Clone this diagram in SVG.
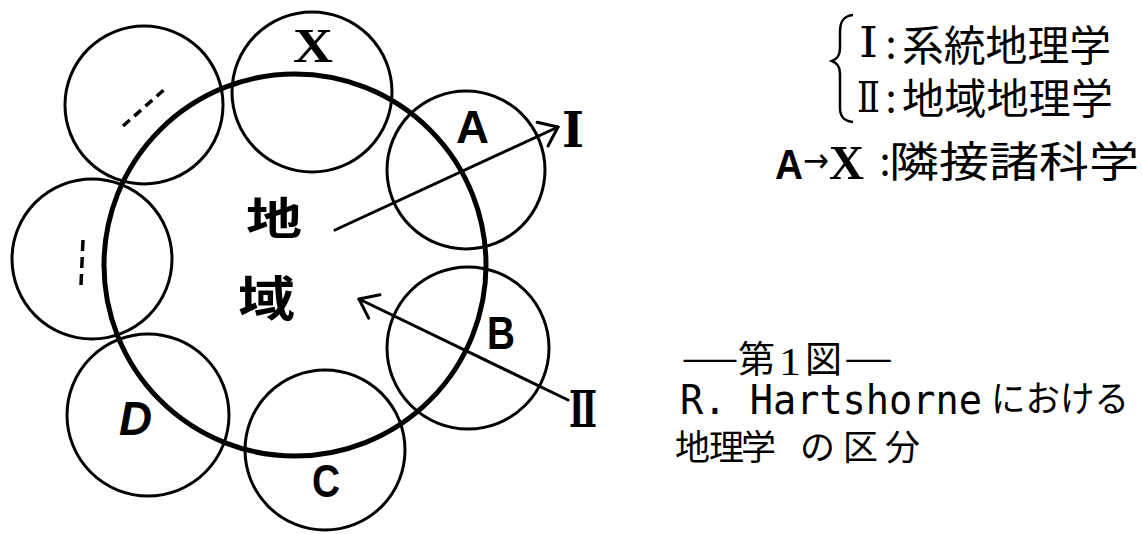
<svg xmlns="http://www.w3.org/2000/svg" width="1142" height="534" viewBox="0 0 1142 534">
<style>
.c{fill:none;stroke:#000;stroke-width:3}
.big{fill:none;stroke:#000;stroke-width:5}
.dash{fill:none;stroke:#000;stroke-width:3.5}
.ln{fill:none;stroke:#000;stroke-width:3;stroke-linecap:round}
.lab{font-family:"Liberation Sans",Arial,sans-serif;font-weight:700;fill:#000}
.ser{font-family:"Liberation Serif","Times New Roman",serif;font-weight:700;fill:#000}
.num{font-family:"DejaVu Serif","Liberation Serif",serif;font-weight:700;fill:#000}
.numl{font-family:"DejaVu Serif","Liberation Serif",serif;font-weight:400;fill:#000}
.one{font-family:"Liberation Serif","Times New Roman",serif;font-weight:400;fill:#000}
.jp{font-family:"Noto Sans CJK JP","Noto Sans CJK SC",sans-serif;fill:#000}
.mono{font-family:"DejaVu Sans Mono","Liberation Mono",monospace;fill:#000}
</style>
<defs>
<marker id="vh" markerUnits="userSpaceOnUse" viewBox="-20 -15 22 30" refX="0" refY="0" markerWidth="22" markerHeight="30" orient="auto">
<path d="M-17,-13 L0,0 L-17,13" fill="none" stroke="#000" stroke-width="3" stroke-linecap="round" stroke-linejoin="round"/>
</marker>
</defs>
<rect width="1142" height="534" fill="#fff"/>

<g id="region">
<circle class="big" cx="295" cy="265" r="191"/>
<text class="jp" font-weight="700" font-size="44" x="246" y="235" textLength="56" lengthAdjust="spacingAndGlyphs">地</text>
<text class="jp" font-weight="700" font-size="48" x="238" y="316" textLength="57" lengthAdjust="spacingAndGlyphs">域</text>
</g>
<g id="node-x">
<circle class="c" cx="312" cy="92" r="80"/>
<text class="ser" font-size="48" x="293" y="62" textLength="40" lengthAdjust="spacingAndGlyphs">X</text>
</g>
<g id="node-a">
<circle class="c" cx="466" cy="170" r="79"/>
<text class="lab" font-size="46" x="456" y="143" textLength="33" lengthAdjust="spacingAndGlyphs">A</text>
</g>
<g id="node-b">
<circle class="c" cx="468" cy="348" r="81"/>
<text class="lab" font-size="47" x="487" y="349" textLength="28" lengthAdjust="spacingAndGlyphs">B</text>
</g>
<g id="node-c">
<circle class="c" cx="325" cy="450" r="80"/>
<text class="lab" font-size="46" x="312" y="497" textLength="28" lengthAdjust="spacingAndGlyphs">C</text>
</g>
<g id="node-d">
<circle class="c" cx="148" cy="415" r="81"/>
<text class="lab" font-size="48" font-style="italic" x="119" y="435" textLength="33" lengthAdjust="spacingAndGlyphs">D</text>
</g>
<g id="node-left">
<circle class="c" cx="92" cy="259" r="80"/>
<line class="dash" x1="83" y1="240" x2="81" y2="285" stroke-dasharray="11 6"/>
</g>
<g id="node-topleft">
<circle class="c" cx="144" cy="105" r="79"/>
<line class="dash" x1="123" y1="126" x2="166" y2="88" stroke-dasharray="9 6"/>
</g>

<g id="connectors">
<path class="ln" d="M335,230 L558,127" marker-end="url(#vh)"/>
<path class="ln" d="M568,400 L359,299" marker-end="url(#vh)"/>
<text class="num" font-size="48" x="562" y="147" textLength="22" lengthAdjust="spacingAndGlyphs">Ⅰ</text>
<text class="num" font-size="50" x="569" y="427" textLength="28" lengthAdjust="spacingAndGlyphs">Ⅱ</text>
</g>

<g id="legend">
<path d="M853,15 C843,16 840,22 840,32 L840,48 C840,56 837,59 832,61 C837,63 840,66 840,74 L840,108 C840,117 844,121 853,122" fill="none" stroke="#000" stroke-width="2.5"/>
<text class="numl" font-size="42" x="859" y="57" textLength="19" lengthAdjust="spacingAndGlyphs">Ⅰ</text>
<text class="jp" font-size="40" x="891" y="58" text-anchor="middle">:</text>
<text class="jp" font-size="42" x="902" y="61" textLength="209" lengthAdjust="spacingAndGlyphs">系統地理学</text>
<text class="numl" font-size="42" x="857" y="112" textLength="23" lengthAdjust="spacingAndGlyphs">Ⅱ</text>
<text class="jp" font-size="40" x="891" y="112" text-anchor="middle">:</text>
<text class="jp" font-size="42" x="902" y="114" textLength="211" lengthAdjust="spacingAndGlyphs">地域地理学</text>
<text class="lab" font-size="42" x="775" y="179" textLength="28" lengthAdjust="spacingAndGlyphs">A</text>
<text font-family="DejaVu Sans,sans-serif" font-size="34" x="803" y="172" textLength="26" lengthAdjust="spacingAndGlyphs">→</text>
<text class="ser" font-size="48" x="829" y="179" textLength="35" lengthAdjust="spacingAndGlyphs">X</text>
<text class="jp" font-size="40" x="885" y="175" text-anchor="middle">:</text>
<text class="jp" font-size="42" x="889" y="177" textLength="250" lengthAdjust="spacingAndGlyphs">隣接諸科学</text>
</g>

<g id="caption">
<text class="jp" font-size="36" x="682" y="371" textLength="56" lengthAdjust="spacingAndGlyphs">——</text>
<text class="jp" font-size="37" x="738" y="373">第</text>
<text class="one" font-size="40" x="779" y="375" textLength="22" lengthAdjust="spacingAndGlyphs">1</text>
<text class="jp" font-size="37" x="805" y="373">図</text>
<text class="jp" font-size="36" x="845" y="371" textLength="47" lengthAdjust="spacingAndGlyphs">——</text>
<text class="mono" font-size="40" x="680" y="414" textLength="302" lengthAdjust="spacingAndGlyphs">R. Hartshorne</text>
<text class="jp" font-size="36" x="991" y="412" textLength="138" lengthAdjust="spacingAndGlyphs">における</text>
<text class="jp" font-size="35" x="675" y="460">地</text>
<text class="jp" font-size="35" x="709" y="460">理</text>
<text class="jp" font-size="35" x="741" y="460">学</text>
<text class="jp" font-size="35" x="800" y="460">の</text>
<text class="jp" font-size="35" x="843" y="460">区</text>
<text class="jp" font-size="35" x="885" y="460">分</text>
</g>
</svg>
